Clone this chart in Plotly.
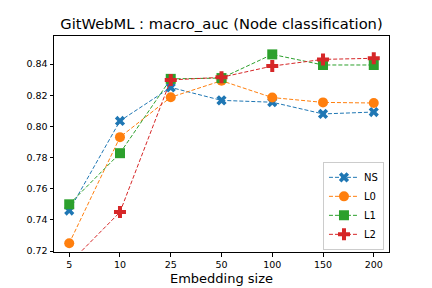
import plotly.graph_objects as go

sizes = ["5", "10", "25", "50", "100", "150", "200"]
ns = [0.746, 0.8035, 0.825, 0.8167, 0.8155, 0.808, 0.8092]
l0 = [0.725, 0.7931, 0.8187, 0.8293, 0.8185, 0.8154, 0.815]
l1 = [0.750, 0.7828, 0.8305, 0.831, 0.8462, 0.8394, 0.8394]
l2 = [0.712, 0.745, 0.8298, 0.8315, 0.8387, 0.843, 0.8437]

series = [
    ("NS", ns, "#1f77b4", "x", 9),
    ("L0", l0, "#ff7f0e", "circle", 10),
    ("L1", l1, "#2ca02c", "square", 10),
    ("L2", l2, "#d62728", "cross", 10),
]

fig = go.Figure()
for name, vals, color, sym, sz in series:
    fig.add_trace(go.Scatter(
        x=sizes, y=vals, name=name, mode="lines+markers",
        line=dict(color=color, width=1, dash="4px,2px"),
        marker=dict(symbol=sym, size=sz, color=color, line=dict(width=0)),
    ))

font = "DejaVu Sans"
fig.update_layout(
    width=432, height=288,
    margin=dict(l=54, r=43, t=36, b=36, autoexpand=False),
    paper_bgcolor="white", plot_bgcolor="white",
    font=dict(family=font, size=10, color="black"),
    title=dict(text="GitWebML : macro_auc (Node classification)",
               x=221.5 / 432, xref="container", xanchor="center", y=1 - 24 / 288, yanchor="middle",
               font=dict(size=14.7, family=font, color="black")),
    showlegend=True,
    legend=dict(x=0.985, y=0.01, xanchor="right", yanchor="bottom",
                bgcolor="rgba(255,255,255,0.8)", bordercolor="#cccccc", borderwidth=1,
                font=dict(size=10, family=font), itemwidth=30, tracegroupgap=0),
)
fig.update_xaxes(
    type="category", range=[-0.3, 6.3], automargin=False,
    showline=True, linecolor="black", linewidth=1, mirror=True,
    ticks="outside", ticklen=3.5, tickcolor="black", showgrid=False,
    tickfont=dict(size=9.5),
    title=dict(text="Embedding size", font=dict(size=13, family=font), standoff=4),
)
fig.update_yaxes(
    range=[0.7194, 0.858], tickvals=[0.72, 0.74, 0.76, 0.78, 0.80, 0.82, 0.84],
    tickformat=".2f", automargin=False,
    showline=True, linecolor="black", linewidth=1, mirror=True,
    ticks="outside", ticklen=3.5, tickcolor="black", showgrid=False, zeroline=False,
    tickfont=dict(size=9.5),
)
fig.write_html("out.html", config={"displayModeBar": False},
               post_script="document.body.style.margin='0px';")
